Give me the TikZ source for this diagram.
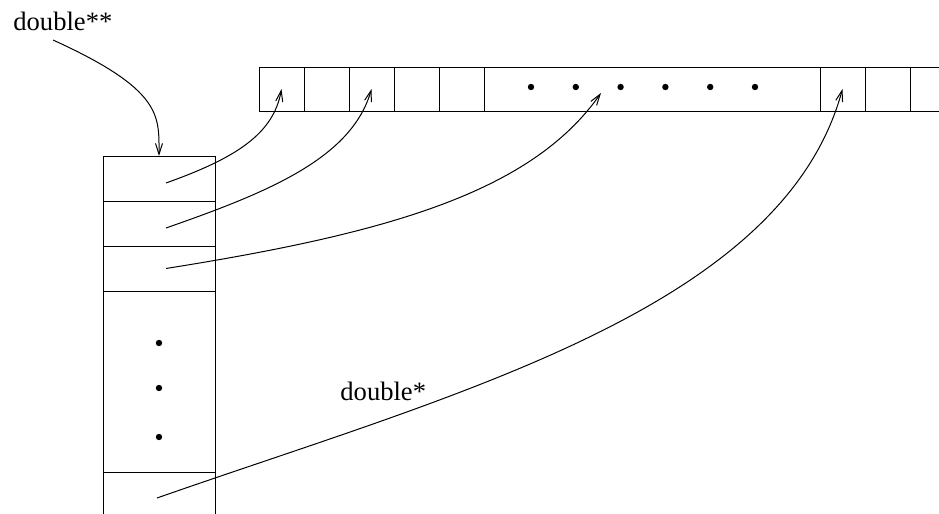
\documentclass[tikz,border=0pt]{standalone}
\usepackage{fontspec}
\setmainfont{Liberation Serif}
\usetikzlibrary{arrows.meta, positioning}

\begin{document}
\begin{tikzpicture}[
    x=0.5pt, y=-0.5pt,
    node distance=0pt,
    cell/.style={
        draw=black,
        line width=0.5pt,
        minimum width=22.5pt,
        minimum height=22pt,
        inner sep=0pt,
        outer sep=0pt
    },
    slot/.style={
        cell,
        minimum width=56pt,
        minimum height=22.5pt
    },
    bullet/.style={circle, fill=black, inner sep=0pt, minimum size=3.2pt},
    txt/.style={font=\fontsize{13.3}{16}\selectfont, inner sep=0pt, anchor=base west},
    arrow/.style={-{Straight Barb[length=5.5pt,width=3.5pt]}, line width=0.5pt}
]
\useasboundingbox (0,0) rectangle (939,514);

\node[txt] (ptrptr) at (13,31) {double**};
\node[txt] (ptr) at (340,400) {double*};

\node[cell] (a1) at (281.5,89) {};
\node[cell, right=of a1] (a2) {};
\node[cell, right=of a2] (a3) {};
\node[cell, right=of a3] (a4) {};
\node[cell, right=of a4] (a5) {};
\node[cell, right=of a5, minimum width=168pt] (gap) {};
\node[cell, right=of gap] (a6) {};
\node[cell, right=of a6] (a7) {};
\draw[line width=0.5pt] (a7.north east) -- ++(29,0) (a7.south east) -- ++(29,0);
\foreach \i in {0,...,5}
    \node[bullet] (hd\i) at (531+44.8*\i,87) {};

\node[slot] (b1) at (159,178.5) {};
\node[slot, below=of b1] (b2) {};
\node[slot, below=of b2] (b3) {};
\node[slot, below=of b3, minimum height=90.5pt] (b4) {};
\draw[line width=0.5pt] (b4.south west) -- ++(0,42) (b4.south east) -- ++(0,42);
\foreach \y [count=\j] in {343,388,437}
    \node[bullet] (vd\j) at (159,\y) {};

\draw[arrow] ([shift={(20pt,-4.5pt)}]ptrptr.base west) .. controls +(110,50) and +(0,-40) .. (b1.north);

\draw[arrow] ([shift={(3.5pt,-2.25pt)}]b1.center) .. controls +(70,-25) and +(-8,45) .. (a1.center);
\draw[arrow] ([shift={(3.5pt,-2.25pt)}]b2.center) .. controls +(100,-35) and +(-20,70) .. (a3.center);
\draw[arrow] ([shift={(3.5pt,0pt)}]b3.center) .. controls +(220,-35) and +(-70,100) .. ([shift={(-25.5pt,-2pt)}]gap.center);
\draw[arrow] ([shift={(-1pt,-13pt)}]b4.south) .. controls +(300,-105) and +(-60,220) .. (a6.center);

\end{tikzpicture}
\end{document}
